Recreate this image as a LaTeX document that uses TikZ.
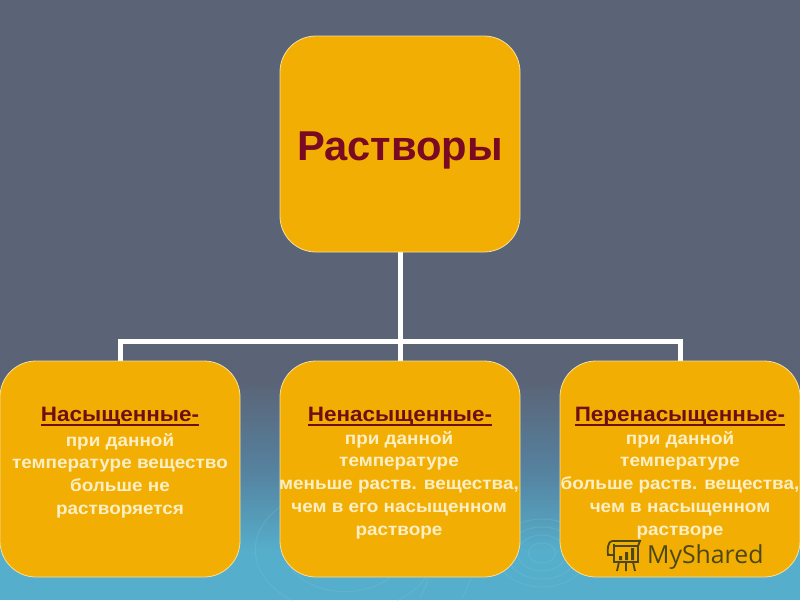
\documentclass[tikz,border=0pt]{standalone}
\usepackage{fontspec}
\setmainfont{Liberation Sans}
\newfontfamily\logofont{Open Sans}
\newfontfamily\widefont[FakeStretch=1.08]{Liberation Sans Bold}
\definecolor{bgslate}{HTML}{5B6477}
\definecolor{bgmid}{HTML}{55829F}
\definecolor{bgteal}{HTML}{55AECB}
\definecolor{boxfill}{HTML}{F2AE03}
\definecolor{boxedge}{HTML}{F3DFA0}
\definecolor{headred}{HTML}{6E0F14}
\definecolor{titlered}{HTML}{7A0A22}
\definecolor{bodycream}{HTML}{FCEFC6}
\definecolor{logoink}{HTML}{4C4716}
\definecolor{ripple}{HTML}{8CCBDD}
\newsavebox{\hdbox}
\newcommand{\headul}[1]{\sbox{\hdbox}{#1}\rlap{\rule[-5pt]{\wd\hdbox}{2pt}}\usebox{\hdbox}}
\tikzset{
  card/.style={draw=boxedge,line width=0.8pt,fill=boxfill,rounded corners=36pt,minimum width=240pt,minimum height=216pt,inner sep=0pt},
  wire/.style={draw=white,line width=5pt,line cap=butt,line join=miter},
  cardtext/.style={align=center,anchor=north,inner sep=0pt,text=bodycream,font=\widefont\fontsize{17.5pt}{22.75pt}\selectfont},
  headtext/.style={text=headred,font=\widefont\fontsize{20.8pt}{23pt}\selectfont,anchor=base,inner sep=0pt},
  ringline/.style={draw=ripple,line width=1pt,opacity=0.22},
  logoline/.style={draw=logoink,line width=1.8pt}
}
\begin{document}
\begin{tikzpicture}[x=1pt,y=-1pt]
\useasboundingbox (0,0) rectangle (800,600);
\fill[bgslate] (0,0) rectangle (800,384);
% background gradient in thin strips
\foreach \y in {382,384,...,470}{
  \pgfmathsetmacro{\pc}{100*(\y-382)/88}
  \fill[bgmid!\pc!bgslate] (0,\y) rectangle (800,\y+2.5);
}
\foreach \y in {470,472,...,550}{
  \pgfmathsetmacro{\pc}{100*(\y-470)/80}
  \fill[bgteal!\pc!bgmid] (0,\y) rectangle (800,\y+2.5);
}
\fill[bgteal] (0,552) rectangle (800,600);
% water ripples
\foreach \r in {10,18,26,34}{\draw[ringline] (542,553) ellipse ({\r*1.35} and {\r});}
\foreach \r in {52,78}{\draw[ringline] (345,550) ellipse ({\r*1.15} and {\r*0.8});}
\draw[ringline] (420,598) .. controls (424,590) and (427,584) .. (428,578);
\draw[ringline] (462,598) .. controls (466,590) and (469,584) .. (471,578);
% connectors
\coordinate (bus) at (400,341);
\coordinate (rootfoot) at (400,252);
\coordinate (leftfoot) at (120,361);
\coordinate (midfoot) at (400,361);
\coordinate (rightfoot) at (680,361);
\draw[wire] (rootfoot) -- (bus);
\draw[wire] (bus) -| (leftfoot);
\draw[wire] (bus) -| (rightfoot);
\draw[wire] (bus) -- (midfoot);
% cards
\node[card] (root) at (400,144) {};
\node[card] (left) at (120,469) {};
\node[card] (mid) at (400,469) {};
\node[card] (right) at (680,469) {};
% texts
\node[text=titlered,font=\fontsize{41.7pt}{46pt}\selectfont\bfseries,anchor=base,inner sep=0pt] (title) at (400,160) {Растворы};
\node[headtext] (lefthead) at (120,421) {\headul{Насыщенные-}};
\node[cardtext] (leftbody) at (120,433) {при данной\\температуре вещество\\больше не\\растворяется};
\node[headtext] (midhead) at (400,421) {\headul{Ненасыщенные-}};
\node[cardtext] (midbody) at (399,431) {при данной\\температуре\\меньше раств. вещества,\\чем в его насыщенном\\растворе};
\node[headtext] (righthead) at (680,421) {\headul{Перенасыщенные-}};
\node[cardtext] (rightbody) at (680,431) {при данной\\температуре\\больше раств. вещества,\\чем в насыщенном\\растворе};
% logo
\node[text=logoink,font=\logofont\fontsize{24.8pt}{28pt}\selectfont,anchor=base west,inner sep=0pt] (logotext) at (647,563) {MyShared};
\draw[logoline] (612,541) -- (640,541) -- (638,546) (614,546) -- (638,546) -- (638,562) -- (614,562) -- (614,544);
\draw[logoline] (612,541) .. controls (608,541) and (607,550) .. (608,555) -- (614,555);
\draw[logoline] (619,562) -- (617,571) (626,562) -- (626,571) (633,562) -- (635,571);
\fill[logoink] (619,556) rectangle (622,560) (625,552) rectangle (628,560) (631,548) rectangle (634,560);
\end{tikzpicture}
\end{document}
